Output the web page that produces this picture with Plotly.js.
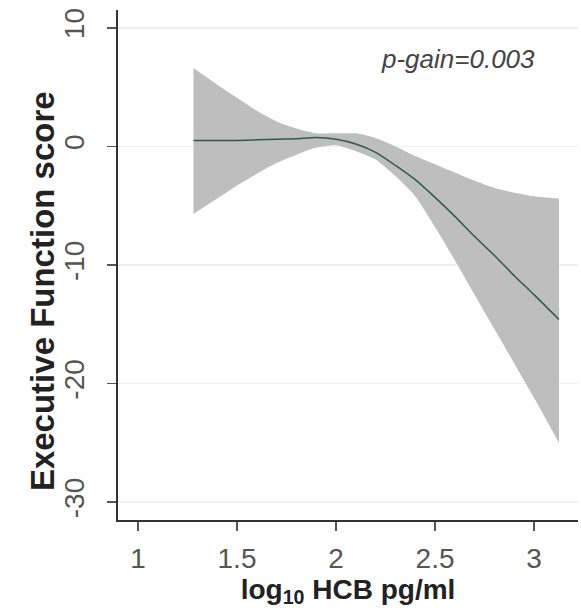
<!DOCTYPE html>
<html><head><meta charset="utf-8">
<script src="https://cdn.plot.ly/plotly-3.0.1.min.js"></script>
<style>html,body{margin:0;padding:0;background:#fff}</style>
</head><body>
<div id="chart" style="width:581px;height:610px"></div>
<script>
const xVals  = [1.28, 1.4, 1.5, 1.6, 1.7, 1.8, 1.9, 2.0, 2.1, 2.2, 2.3, 2.4, 2.5, 2.6, 2.7, 2.8, 2.9, 3.0, 3.126];
const fitVals = [0.5, 0.5, 0.5, 0.55, 0.6, 0.65, 0.75, 0.6, 0.2, -0.5, -1.6, -2.8, -4.3, -5.9, -7.6, -9.2, -10.9, -12.5, -14.6];
const upperVals = [6.6, 5.2, 4.1, 3.0, 2.1, 1.5, 1.1, 1.1, 1.1, 0.7, 0.0, -0.8, -1.5, -2.2, -2.9, -3.5, -3.9, -4.2, -4.4];
const lowerVals = [-5.7, -4.4, -3.3, -2.3, -1.4, -0.7, -0.1, 0.1, -0.4, -1.1, -2.5, -4.2, -6.8, -9.6, -12.5, -15.4, -18.3, -21.2, -25.0];
const xTicks = [1, 1.5, 2, 2.5, 3];
const xTickText = ['1', '1.5', '2', '2.5', '3'];
const yTicks = [10, 0, -10, -20, -30];
const yTickText = ['10', '0', '-10', '-20', '-30'];
const xTitle = 'log<sub>10</sub> HCB pg/ml';
const yTitle = 'Executive Function score';
const annotationText = 'p-gain=0.003';

const traces = [
  {x: xVals, y: lowerVals, type: 'scatter', mode: 'lines', line: {width: 0, shape: 'spline', smoothing: 0.6}, hoverinfo: 'skip', showlegend: false},
  {x: xVals, y: upperVals, type: 'scatter', mode: 'lines', fill: 'tonexty', fillcolor: '#bebebe', line: {width: 0, shape: 'spline', smoothing: 0.6}, hoverinfo: 'skip', showlegend: false},
  {x: xVals, y: fitVals, type: 'scatter', mode: 'lines', line: {color: '#2e5a50', width: 1.5, shape: 'spline', smoothing: 0.6}, showlegend: false}
];

const layout = {
  width: 581, height: 610,
  margin: {l: 118, r: 3, t: 10, b: 90},
  paper_bgcolor: '#ffffff', plot_bgcolor: '#ffffff',
  font: {family: 'Liberation Sans, Arial, sans-serif', color: '#555'},
  xaxis: {
    range: [0.899, 3.222], tickvals: xTicks, ticktext: xTickText,
    showgrid: false, zeroline: false, showline: true, linecolor: '#333', linewidth: 2,
    ticks: 'outside', ticklen: 9, tickwidth: 1.5, tickcolor: '#555',
    tickfont: {size: 28, color: '#555'}, ticklabelstandoff: 3,
    title: {text: xTitle, font: {size: 28, color: '#222', family: 'Liberation Sans, Arial, sans-serif', weight: 'bold'}, standoff: 2}
  },
  yaxis: {
    range: [-31.5, 11.5], tickvals: yTicks, ticktext: yTickText, tickangle: -90,
    showgrid: true, gridcolor: '#f0f0f0', gridwidth: 1.5, zeroline: false,
    showline: true, linecolor: '#333', linewidth: 2,
    ticks: 'outside', ticklen: 9, tickwidth: 1.5, tickcolor: '#555',
    tickfont: {size: 28, color: '#555'}, ticklabelstandoff: 12
  },
  annotations: [
    {
      x: 3.015, y: 7.4, xref: 'x', yref: 'y', text: '<i>' + annotationText + '</i>', showarrow: false,
      xanchor: 'right', yanchor: 'middle', font: {size: 26, color: '#444'}
    },
    {
      x: -0.165, y: 0.449, xref: 'paper', yref: 'paper', text: yTitle, showarrow: false, textangle: -90,
      xanchor: 'center', yanchor: 'middle',
      font: {size: 33, color: '#222', family: 'Liberation Sans, Arial, sans-serif', weight: 'bold'}
    }
  ]
};

Plotly.newPlot('chart', traces, layout, {displayModeBar: false, staticPlot: true});
</script>
</body></html>
